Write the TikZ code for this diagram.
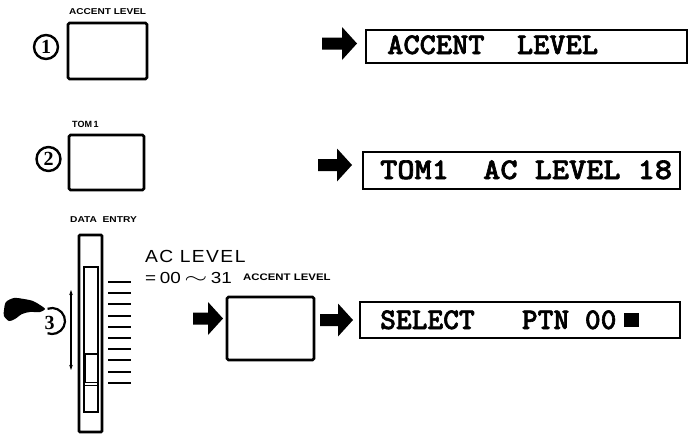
\documentclass[tikz,border=0pt]{standalone}
\usepackage{fontspec}
\setmainfont{Liberation Sans}
\newfontfamily\lcdfont{lmmonolt10-bold.otf}[FakeBold=2]
\newfontfamily\numfont{Liberation Serif}
\usetikzlibrary{arrows.meta}
\newcommand\barrow[3]{\fill (#1,#2) ++(0,-6) -- ++({#3-15},0) -- ++(0,-10.5) -- ++(15,16.5) -- ++(-15,16.5) -- ++(0,-10.5) -- ++({-(#3-15)},0) -- cycle;}
\begin{document}
\begin{tikzpicture}[x=1pt,y=-1pt,
  lbl/.style={anchor=base west, inner sep=0pt, font=\bfseries\fontsize{8.5}{8.5}\selectfont},
  lcd/.style={anchor=base west, inner sep=0pt, font=\lcdfont\fontsize{30}{30}\selectfont},
  btn/.style={draw, line width=2.6pt, rounded corners=1.5pt, inner sep=0pt},
  dispbox/.style={draw, line width=2pt, inner sep=0pt},
  circnum/.style={circle, draw, line width=2.4pt, minimum size=24pt, inner sep=0pt, font=\numfont\bfseries\fontsize{20}{20}\selectfont},
  tick/.style={line width=2pt}]
\useasboundingbox (0,0) rectangle (688,434);
% row 1
\node[lbl] (l1) at (69,14) {\scalebox{1.18}[1]{ACCENT LEVEL}};
\node[btn, minimum width=79pt, minimum height=56pt] (b1) at (107.5,51) {};
\node[circnum] (c1) at (46,47) {1};
\barrow{322}{43.5}{35}
\node[dispbox, minimum width=321pt, minimum height=33pt] (d1) at (526.5,46.5) {};
\node[lcd] (t1) at (387,54) {\scalebox{1.03}[1]{ACCENT~~LEVEL}};
% row 2
\node[lbl] (l2) at (72,127) {\fontsize{9}{9}\selectfont TOM\thinspace1};
\node[btn, minimum width=75pt, minimum height=55pt] (b2) at (106.5,162.5) {};
\node[circnum] (c2) at (48.5,159) {2};
\barrow{318}{165}{34}
\node[dispbox, minimum width=317pt, minimum height=37pt] (d2) at (521.5,170.5) {};
\node[lcd] (t2) at (380,179) {\scalebox{1.09}[1]{TOM1~~AC~LEVEL~18}};
% row 3
\node[lbl] (l3) at (70,222) {\scalebox{1.2}[1]{DATA\ \ ENTRY}};
\draw[line width=2.8pt, rounded corners=1pt] (79,235) rectangle (102,432);
\draw[line width=1.6pt] (84,267) rectangle (98,412);
\draw[line width=1.8pt] (84,354) rectangle (98,412);
\fill (83,354) rectangle (86,382);
\draw[line width=1pt] (84,382) -- (98,382) (84,385.5) -- (98,385.5);
\foreach \i in {0,...,9} \draw[tick] (108,{282+11.2*\i}) -- (131,{282+11.2*\i});
\draw[{Stealth[length=5pt,width=3.5pt]}-{Stealth[length=5pt,width=3.5pt]}, line width=1.3pt] (71,290) -- (71,370);
\draw[line width=2.2pt] (52,321) ++(-110:13) arc[start angle=-110, end angle=110, radius=13];
\node[inner sep=0pt, font=\numfont\bfseries\fontsize{20}{20}\selectfont] (c3) at (49.5,323) {3};
\fill plot[smooth cycle] coordinates {(4,310) (6,302) (14,298) (24,299) (33,301) (40,305) (45,309) (40,312) (30,312) (22,314) (15,319) (9,321) (4,316)};
\node[anchor=base west, inner sep=0pt, font=\fontsize{17.5}{17.5}\selectfont] (ac) at (145,262) {\scalebox{1.1}[1]{A\kern1.3pt C\ \kern1pt L\kern1.3pt E\kern1.3pt V\kern1.3pt E\kern1.3pt L}};
\node[anchor=base west, inner sep=0pt, font=\fontsize{16}{16}\selectfont] (rng) at (145,283) {\scalebox{1.18}[1]{=\kern3pt 00\kern3pt\smash{\scalebox{1.45}[1.1]{$\sim$}}\kern3pt 31}};
\node[lbl] (l4) at (243,280) {\fontsize{9.5}{9.5}\selectfont\scalebox{1.2}[1]{ACCENT LEVEL}};
\barrow{193}{318.5}{30}
\node[btn, minimum width=87pt, minimum height=63pt] (b3) at (270.5,328.5) {};
\barrow{320}{320}{33}
\node[dispbox, minimum width=320pt, minimum height=36pt] (d3) at (520,320) {};
\node[lcd] (t3) at (380,329) {\scalebox{1.0}[1]{SELECT~~~PTN~00}};
\fill (624,313) rectangle (639,327);
\end{tikzpicture}
\end{document}
